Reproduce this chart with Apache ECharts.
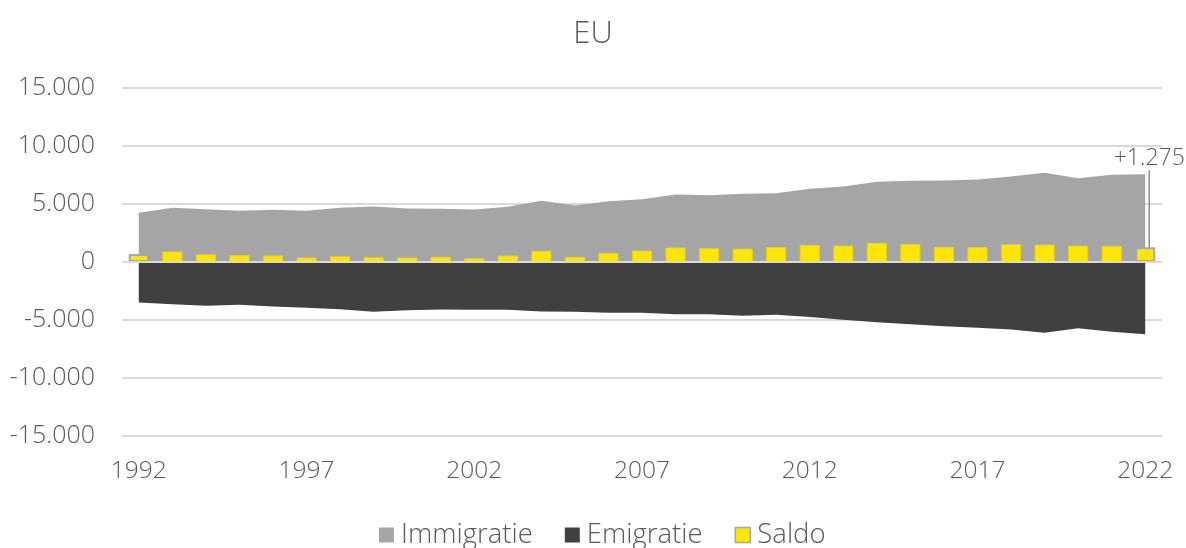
<!DOCTYPE html>
<html>
<head>
<meta charset="utf-8">
<script src="https://cdn.jsdelivr.net/npm/echarts@6/dist/echarts.min.js"></script>
<style>
  html, body { margin: 0; padding: 0; background: #fff; }
  #chart { width: 1186px; height: 548px; }
</style>
</head>
<body>
<div id="chart"></div>
<script>
const years = ["1992","1993","1994","1995","1996","1997","1998","1999","2000","2001",
  "2002","2003","2004","2005","2006","2007","2008","2009","2010","2011",
  "2012","2013","2014","2015","2016","2017","2018","2019","2020","2021","2022"];

const immigratie = [4240, 4670, 4550, 4410, 4500, 4410, 4670, 4780, 4610, 4590,
  4530, 4760, 5280, 4870, 5240, 5410, 5820, 5760, 5880, 5930,
  6310, 6510, 6910, 7000, 7030, 7110, 7370, 7690, 7220, 7520, 7570];

const emigratie = [-3490, -3640, -3780, -3690, -3840, -3950, -4070, -4290, -4160, -4090,
  -4120, -4120, -4270, -4290, -4380, -4380, -4500, -4500, -4640, -4550,
  -4740, -4980, -5190, -5360, -5530, -5670, -5820, -6100, -5710, -6020, -6220];

const saldo = [690, 905, 670, 590, 560, 390, 500, 410, 390, 450,
  330, 560, 965, 450, 790, 990, 1250, 1190, 1160, 1280,
  1480, 1420, 1660, 1570, 1310, 1280, 1530, 1510, 1420, 1400, 1275];

const yTicks = { min: -15000, max: 15000, interval: 5000 };

const textColor = "#595959";
const font = "'Open Sans', 'Liberation Sans', sans-serif";

// thousands with a dot, like the source
function fmt(v) {
  const s = String(Math.abs(v)).replace(/\B(?=(\d{3})+(?!\d))/g, ".");
  return (v < 0 ? "-" : "") + s;
}

const last = saldo.length - 1;
const saldoData = saldo.map((v, i) => {
  const item = { value: v };
  if (i === 0 || i === last) {
    item.itemStyle = { borderColor: "#a6a6a6", borderWidth: 2 };
  }
  if (i === last) {
    item.label = {
      show: true,
      position: "top",
      formatter: p => "+" + fmt(p.value),
      color: textColor,
      fontFamily: font,
      fontWeight: 300,
      fontSize: 23
    };
    item.labelLine = { show: true, lineStyle: { color: "#8c8c8c", width: 1.5 } };
  }
  return item;
});

const myChart = echarts.init(document.getElementById("chart"));
myChart.setOption({
  animation: false,
  textStyle: { fontFamily: font },
  title: {
    text: "EU",
    left: "center",
    top: 14,
    textStyle: { color: textColor, fontSize: 31, fontWeight: 300, fontFamily: font }
  },
  grid: {
    left: 122,
    right: 24,
    top: 88,
    bottom: 112
  },
  legend: {
    top: 516,
    left: 374,
    icon: "rect",
    itemWidth: 15,
    itemHeight: 15,
    itemGap: 32,
    textStyle: {
      color: textColor, fontSize: 27.5, fontWeight: 300, fontFamily: font,
      padding: [0, 0, 0, 2]
    },
    data: [
      { name: "Immigratie" },
      { name: "Emigratie" },
      { name: "Saldo", itemStyle: { borderColor: "#a6a6a6", borderWidth: 1.5 } }
    ]
  },
  xAxis: {
    type: "category",
    data: years,
    boundaryGap: true,
    axisLine: { show: false, onZero: false },
    axisTick: { show: false },
    axisLabel: {
      interval: 4,
      margin: 23,
      color: textColor,
      fontSize: 24.5,
      fontWeight: 300,
      fontFamily: font
    }
  },
  yAxis: {
    type: "value",
    min: yTicks.min,
    max: yTicks.max,
    interval: yTicks.interval,
    axisLine: { show: false },
    axisTick: { show: false },
    splitLine: { lineStyle: { color: "#d9d9d9", width: 2 } },
    axisLabel: {
      margin: 27,
      color: textColor,
      fontSize: 25,
      fontWeight: 300,
      fontFamily: font,
      formatter: fmt
    }
  },
  series: [
    {
      name: "Immigratie",
      type: "line",
      data: immigratie,
      symbol: "none",
      lineStyle: { width: 0 },
      itemStyle: { color: "#a5a5a5" },
      areaStyle: { color: "#a5a5a5", opacity: 1 },
      z: 1
    },
    {
      name: "Emigratie",
      type: "line",
      data: emigratie,
      symbol: "none",
      lineStyle: { width: 0 },
      itemStyle: { color: "#404040" },
      areaStyle: { color: "#404040", opacity: 1 },
      z: 1
    },
    {
      name: "Saldo",
      type: "bar",
      data: saldoData,
      barWidth: "60%",
      itemStyle: { color: "#ffe600", borderColor: "#e8d400", borderWidth: 1 },
      labelLayout: { dx: 4, dy: -72 },
      markLine: {
        silent: true,
        symbol: "none",
        label: { show: false },
        lineStyle: { color: "#d9d9d9", width: 2, type: "solid" },
        data: [{ yAxis: 0 }]
      },
      z: 3
    }
  ]
});
</script>
</body>
</html>
